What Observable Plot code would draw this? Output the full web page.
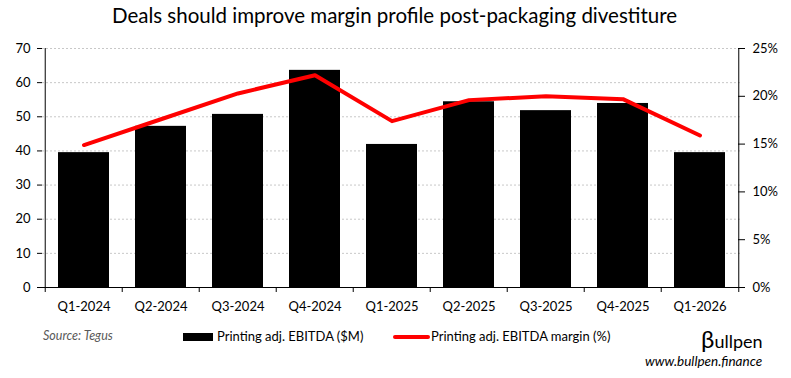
<!DOCTYPE html>
<html><head><meta charset="utf-8">
<script src="https://cdn.jsdelivr.net/npm/d3@7"></script>
<script src="https://cdn.jsdelivr.net/npm/@observablehq/plot@0.6"></script>
<style>
body{margin:0;background:#fff;font-family:Lato,"Open Sans",sans-serif;}
#wrap{position:relative;width:791px;height:378px;overflow:hidden;}
#wrap svg{position:absolute;left:0;top:0;}
.t{position:absolute;white-space:nowrap;color:#000;line-height:1;}
</style></head>
<body>
<div id="wrap">
  <div class="t" id="title" style="left:0;width:789px;text-align:center;top:5px;font-size:20.5px;">Deals should improve margin profile post-packaging divestiture</div>
  <div class="t" style="left:43px;top:330px;font-size:12.5px;font-style:italic;color:#595959;">Source: Tegus</div>
  <div class="t" style="left:183px;top:330px;font-size:13px;display:flex;align-items:center;"><span style="display:inline-block;width:30px;height:8px;background:#000;margin-right:4px;"></span>Printing adj. EBITDA ($M)</div>
  <div class="t" style="left:393px;top:330px;font-size:13px;display:flex;align-items:center;"><span style="display:inline-block;width:37px;height:4px;background:#ff0000;border-radius:2px;margin-right:1px;"></span>Printing adj. EBITDA margin (%)</div>
  <div class="t" style="left:701px;top:327px;font-size:18px;"><span style="font-size:24px;">β</span>ullpen</div>
  <div class="t" style="left:645px;top:355px;font-size:13.5px;font-style:italic;">www.bullpen.finance</div>
</div>
<script>
const quarters = ["Q1-2024","Q2-2024","Q3-2024","Q4-2024","Q1-2025","Q2-2025","Q3-2025","Q4-2025","Q1-2026"];
const ebitda = [39.5, 47.2, 50.7, 63.6, 41.9, 54.4, 51.8, 53.9, 39.5];
const margin = [14.9, 17.6, 20.3, 22.2, 17.4, 19.6, 20.0, 19.7, 15.9];
const leftTicks = [0,10,20,30,40,50,60,70];
const rightTicks = [0,5,10,15,20,25];

const leftMax = 70, rightMax = 25;
const toLeft = v => v * leftMax / rightMax;
const data = quarters.map((q,i)=>({q, ebitda: ebitda[i], margin: margin[i]}));

const W = 791, H = 378, ml = 42, mr = 51, mt = 48, mb = 91;
const step = (W - ml - mr) / quarters.length;
const last = quarters[quarters.length-1];

const chart = Plot.plot({
  width: W, height: H,
  marginLeft: ml, marginRight: mr, marginTop: mt, marginBottom: mb,
  style: {fontFamily: "Lato, 'Open Sans', sans-serif", background: "transparent", color: "#000"},
  x: {domain: quarters, paddingInner: 0.34, paddingOuter: 0.17, label: null},
  y: {domain: [0, leftMax], label: null},
  marks: [
    Plot.ruleY(leftTicks.filter(d=>d>0), {stroke: "#c8c8c8", strokeDasharray: "2,2", strokeWidth: 1}),
    Plot.barY(data, {x: "q", y: "ebitda", fill: "#000"}),
    Plot.line(data, {x: "q", y: d => toLeft(d.margin), stroke: "#ff0000", strokeWidth: 4, strokeLinecap: "round", strokeLinejoin: "round"}),
    Plot.ruleY([0], {stroke: "#000", strokeWidth: 1}),
    Plot.ruleX([quarters[0]], {dx: -step/2, stroke: "#000", strokeWidth: 1}),
    Plot.ruleX([last], {dx: step/2, stroke: "#000", strokeWidth: 1}),
    Plot.axisX(quarters, {tickSize: 5, dx: -step/2, tickFormat: () => "", label: null}),
    Plot.axisX([last], {tickSize: 5, dx: step/2, tickFormat: () => "", label: null}),
    Plot.axisY(leftTicks, {anchor: "left", tickSize: 5, tickPadding: 7, fontSize: 13, label: null}),
    Plot.axisY(rightTicks.map(toLeft), {anchor: "right", tickSize: 4, tickPadding: 8, fontSize: 13, label: null,
      tickFormat: v => Math.round(v * rightMax / leftMax) + "%"}),
    Plot.axisY(rightTicks.map(toLeft), {anchor: "right", tickSize: 3, dx: -3, tickFormat: () => "", label: null}),
    Plot.axisX({tickSize: 0, tickPadding: 14, fontSize: 13, label: null})
  ]
});
document.getElementById("wrap").appendChild(chart);
</script>
</body></html>
